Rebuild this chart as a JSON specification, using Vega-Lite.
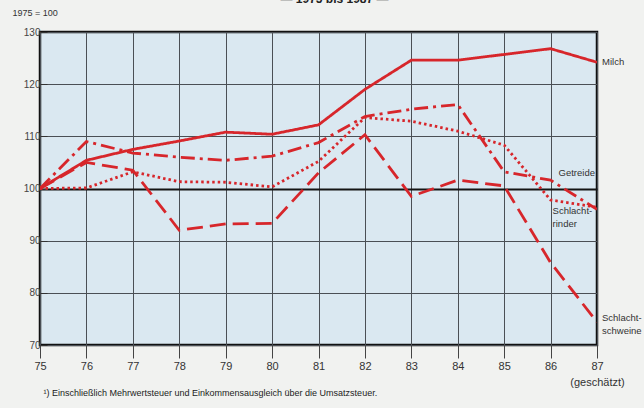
{
  "$schema": "https://vega.github.io/schema/vega-lite/v6.json",
  "width": 557,
  "height": 313,
  "autosize": {"type": "none"},
  "padding": {"left": 40, "top": 32, "right": 47, "bottom": 63},
  "background": "#f1f2f0",
  "title": {
    "text": "— 1975 bis 1987 —",
    "fontSize": 12,
    "fontWeight": "bold",
    "font": "Liberation Sans",
    "color": "#222",
    "anchor": "middle",
    "dx": 16,
    "offset": -10,
    "baseline": "bottom"
  },
  "config": {
    "font": "Liberation Sans",
    "view": {"fill": "#dae8f1", "stroke": "#111", "strokeWidth": 2.5}
  },
  "datasets": {
    "series": [
      {"jahr": 75, "wert": 100, "reihe": "Milch"},
      {"jahr": 76, "wert": 105.4, "reihe": "Milch"},
      {"jahr": 77, "wert": 107.5, "reihe": "Milch"},
      {"jahr": 78, "wert": 109.1, "reihe": "Milch"},
      {"jahr": 79, "wert": 110.8, "reihe": "Milch"},
      {"jahr": 80, "wert": 110.4, "reihe": "Milch"},
      {"jahr": 81, "wert": 112.2, "reihe": "Milch"},
      {"jahr": 82, "wert": 119.0, "reihe": "Milch"},
      {"jahr": 83, "wert": 124.6, "reihe": "Milch"},
      {"jahr": 84, "wert": 124.6, "reihe": "Milch"},
      {"jahr": 85, "wert": 125.7, "reihe": "Milch"},
      {"jahr": 86, "wert": 126.8, "reihe": "Milch"},
      {"jahr": 87, "wert": 124.2, "reihe": "Milch"},
      {"jahr": 75, "wert": 100, "reihe": "Getreide"},
      {"jahr": 76, "wert": 109.0, "reihe": "Getreide"},
      {"jahr": 77, "wert": 106.8, "reihe": "Getreide"},
      {"jahr": 78, "wert": 106.0, "reihe": "Getreide"},
      {"jahr": 79, "wert": 105.4, "reihe": "Getreide"},
      {"jahr": 80, "wert": 106.2, "reihe": "Getreide"},
      {"jahr": 81, "wert": 108.8, "reihe": "Getreide"},
      {"jahr": 82, "wert": 113.8, "reihe": "Getreide"},
      {"jahr": 83, "wert": 115.2, "reihe": "Getreide"},
      {"jahr": 84, "wert": 116.1, "reihe": "Getreide"},
      {"jahr": 85, "wert": 103.2, "reihe": "Getreide"},
      {"jahr": 86, "wert": 101.6, "reihe": "Getreide"},
      {"jahr": 87, "wert": 96.0, "reihe": "Getreide"},
      {"jahr": 75, "wert": 100, "reihe": "Schlachtrinder"},
      {"jahr": 76, "wert": 100.1, "reihe": "Schlachtrinder"},
      {"jahr": 77, "wert": 103.2, "reihe": "Schlachtrinder"},
      {"jahr": 78, "wert": 101.3, "reihe": "Schlachtrinder"},
      {"jahr": 79, "wert": 101.2, "reihe": "Schlachtrinder"},
      {"jahr": 80, "wert": 100.3, "reihe": "Schlachtrinder"},
      {"jahr": 81, "wert": 105.2, "reihe": "Schlachtrinder"},
      {"jahr": 82, "wert": 113.6, "reihe": "Schlachtrinder"},
      {"jahr": 83, "wert": 112.9, "reihe": "Schlachtrinder"},
      {"jahr": 84, "wert": 111.0, "reihe": "Schlachtrinder"},
      {"jahr": 85, "wert": 108.3, "reihe": "Schlachtrinder"},
      {"jahr": 86, "wert": 97.8, "reihe": "Schlachtrinder"},
      {"jahr": 87, "wert": 96.4, "reihe": "Schlachtrinder"},
      {"jahr": 75, "wert": 100, "reihe": "Schlachtschweine"},
      {"jahr": 76, "wert": 105.0, "reihe": "Schlachtschweine"},
      {"jahr": 77, "wert": 103.5, "reihe": "Schlachtschweine"},
      {"jahr": 78, "wert": 92.0, "reihe": "Schlachtschweine"},
      {"jahr": 79, "wert": 93.2, "reihe": "Schlachtschweine"},
      {"jahr": 80, "wert": 93.3, "reihe": "Schlachtschweine"},
      {"jahr": 81, "wert": 103.0, "reihe": "Schlachtschweine"},
      {"jahr": 82, "wert": 110.3, "reihe": "Schlachtschweine"},
      {"jahr": 83, "wert": 98.5, "reihe": "Schlachtschweine"},
      {"jahr": 84, "wert": 101.6, "reihe": "Schlachtschweine"},
      {"jahr": 85, "wert": 100.5, "reihe": "Schlachtschweine"},
      {"jahr": 86, "wert": 85.8, "reihe": "Schlachtschweine"},
      {"jahr": 87, "wert": 74.4, "reihe": "Schlachtschweine"}
    ],
    "labels": [
      {"jahr": 87, "wert": 124.2, "text": "Milch", "seite": "rechts"},
      {"jahr": 87, "wert": 102.9, "text": "Getreide", "seite": "innen"},
      {"jahr": 86, "wert": 95.7, "text": "Schlacht-\nrinder", "seite": "mitte"},
      {"jahr": 87, "wert": 75.1, "text": "Schlacht-\nschweine", "seite": "rechts"}
    ]
  },
  "layer": [
    {
      "data": {"name": "series"},
      "mark": {"type": "line", "color": "#d7262b", "strokeWidth": 2.8, "clip": true},
      "encoding": {
        "x": {
          "field": "jahr",
          "type": "quantitative",
          "scale": {"domain": [75, 87], "nice": false, "zero": false},
          "axis": {
            "values": [75, 76, 77, 78, 79, 80, 81, 82, 83, 84, 85, 86, 87],
            "labelOverlap": false,
            "labelFlush": false,
            "labelExpr": "datum.value == 87 ? ['87', '(geschätzt)'] : datum.label",
            "labelLineHeight": 16,
            "labelFontSize": 11,
            "labelColor": "#333",
            "labelPadding": 2,
            "tickSize": 13,
            "tickColor": "#444",
            "tickWidth": 1,
            "domain": false,
            "grid": true,
            "gridColor": "#4a4f55",
            "gridWidth": 1,
            "title": "¹) Einschließlich Mehrwertsteuer und Einkommensausgleich über die Umsatzsteuer.",
            "titleFontSize": 9,
            "titleFontWeight": "normal",
            "titleColor": "#222",
            "titleAnchor": "start",
            "titleAlign": "left",
            "titleBaseline": "middle",
            "titleX": 3,
            "titleY": 47
          }
        },
        "y": {
          "field": "wert",
          "type": "quantitative",
          "scale": {"domain": [70, 130], "nice": false, "zero": false},
          "axis": {
            "values": [70, 75, 80, 85, 90, 95, 100, 105, 110, 115, 120, 125, 130],
            "labelOverlap": false,
            "labelFlush": false,
            "labelExpr": "datum.value % 10 == 0 ? datum.label : ''",
            "labelFontSize": 10,
            "labelColor": "#444",
            "labelPadding": 7,
            "tickSize": -7,
            "tickColor": "#333",
            "tickWidth": 1,
            "domain": false,
            "grid": true,
            "gridColor": {"condition": {"test": "datum.value == 100", "value": "#151515"}, "value": "#4a4f55"},
            "gridWidth": {"condition": {"test": "datum.value == 100", "value": 2}, "value": 1},
            "gridOpacity": {"condition": {"test": "datum.value % 10 == 0", "value": 1}, "value": 0},
            "title": "1975 = 100",
            "titleAngle": 0,
            "titleFontSize": 9,
            "titleFontWeight": "normal",
            "titleColor": "#333",
            "titleAlign": "left",
            "titleBaseline": "middle",
            "titleX": -28,
            "titleY": -20
          }
        },
        "strokeDash": {
          "field": "reihe",
          "type": "nominal",
          "scale": {
            "domain": ["Milch", "Getreide", "Schlachtrinder", "Schlachtschweine"],
            "range": [[1, 0], [14, 5, 3, 5], [2.5, 3], [16, 7]]
          },
          "legend": null
        }
      }
    },
    {
      "data": {"name": "labels"},
      "transform": [{"filter": "datum.seite == 'rechts'"}],
      "mark": {"type": "text", "align": "left", "baseline": "middle", "dx": 5, "fontSize": 9.5, "color": "#333", "lineBreak": "\n", "lineHeight": 13},
      "encoding": {
        "x": {"field": "jahr", "type": "quantitative"},
        "y": {"field": "wert", "type": "quantitative"},
        "text": {"field": "text"}
      }
    },
    {
      "data": {"name": "labels"},
      "transform": [{"filter": "datum.seite == 'innen'"}],
      "mark": {"type": "text", "align": "right", "baseline": "middle", "dx": -2, "fontSize": 9.5, "color": "#333"},
      "encoding": {
        "x": {"field": "jahr", "type": "quantitative"},
        "y": {"field": "wert", "type": "quantitative"},
        "text": {"field": "text"}
      }
    },
    {
      "data": {"name": "labels"},
      "transform": [{"filter": "datum.seite == 'mitte'"}],
      "mark": {"type": "text", "align": "left", "baseline": "middle", "dx": 2, "fontSize": 9.5, "color": "#333", "lineBreak": "\n", "lineHeight": 13},
      "encoding": {
        "x": {"field": "jahr", "type": "quantitative"},
        "y": {"field": "wert", "type": "quantitative"},
        "text": {"field": "text"}
      }
    }
  ]
}
